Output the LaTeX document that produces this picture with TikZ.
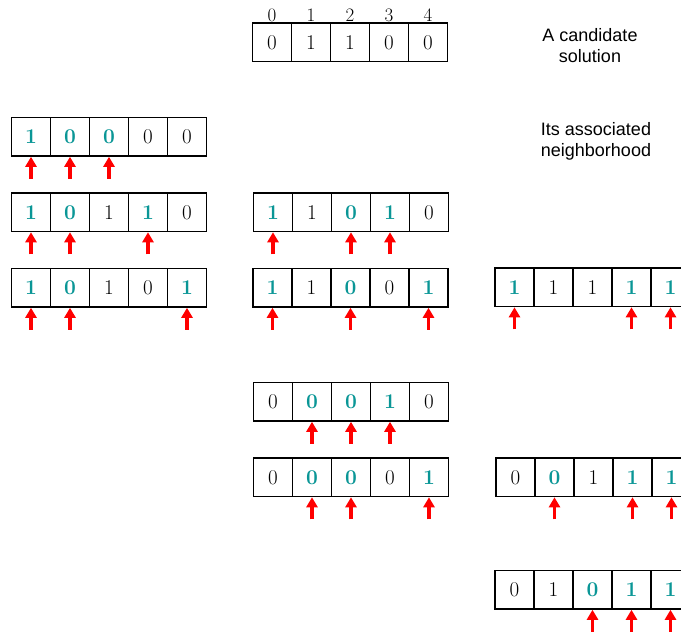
\documentclass[tikz,border=0pt]{standalone}
\usepackage{fontspec}
\newfontfamily\labelfont{Liberation Sans}
\usetikzlibrary{arrows.meta}
\definecolor{bitteal}{RGB}{10,150,150}
\tikzset{
  bitcell/.style={draw=black, line width=1.6pt, minimum width=39pt, minimum height=38.5pt, inner sep=0pt, font=\fontsize{21}{21}\selectfont\addfontfeatures{FakeBold=0.5}},
  cellt/.style={bitcell, text=bitteal, font=\fontsize{21}{21}\selectfont\bfseries},
  celln/.style={bitcell},
  flipmark/.style={draw=red, line width=3.2pt, -{Triangle[length=10pt,width=11pt]}},
  idx/.style={font=\fontsize{19}{19}\selectfont\addfontfeatures{FakeBold=0.4}, anchor=base, inner sep=0pt},
  caption/.style={font=\labelfont\fontsize{18}{18}\selectfont, anchor=base, inner sep=0pt},
}
\newcommand\bitrow[4]{%
  \foreach [count=\i from 0] \d/\s in {#4} {
    \node[cell\s] (#1-\i) at ({#2+19.5+39*\i}, {-(#3+19.25)}) {\d};
    \if\s t
      \coordinate (#1-\i-tail) at ([yshift=-22pt]#1-\i.south);
      \draw[flipmark] (#1-\i-tail) -- (#1-\i.south);
    \fi
  }}
\begin{document}
\begin{tikzpicture}[x=1pt, y=1pt]
  \useasboundingbox (0,0) rectangle (681,-632);
  \clip (0,0) rectangle (681,-632);
  % candidate solution
  \foreach \i in {0,...,4} \node[idx] (ix\i) at ({252.5+19.5+39*\i}, -21) {\i};
  \bitrow{top}{252.5}{23}{0/n,1/n,1/n,0/n,0/n}
  % neighborhood
  \bitrow{Aa}{11.5}{117.5}{1/t,0/t,0/t,0/n,0/n}
  \bitrow{Bl}{11.5}{193}{1/t,0/t,1/n,1/t,0/n}
  \bitrow{Bm}{253.5}{193}{1/t,1/n,0/t,1/t,0/n}
  \bitrow{Cl}{11.5}{268.5}{1/t,0/t,1/n,0/n,1/t}
  \bitrow{Cm}{253}{268.5}{1/t,1/n,0/t,0/n,1/t}
  \bitrow{Cr}{495}{268}{1/t,1/n,1/n,1/t,1/t}
  \bitrow{Dm}{253.5}{382.5}{0/n,0/t,0/t,1/t,0/n}
  \bitrow{Em}{253.5}{458}{0/n,0/t,0/t,0/n,1/t}
  \bitrow{Er}{496}{458}{0/n,0/t,1/n,1/t,1/t}
  \bitrow{Fr}{495}{570.5}{0/n,1/n,0/t,1/t,1/t}
  % captions
  \node[caption] (cap1) at (590,-41) {A candidate};
  \node[caption] (cap2) at (590,-62) {solution};
  \node[caption] (cap3) at (596,-135) {Its associated};
  \node[caption] (cap4) at (596,-156) {neighborhood};
\end{tikzpicture}
\end{document}
